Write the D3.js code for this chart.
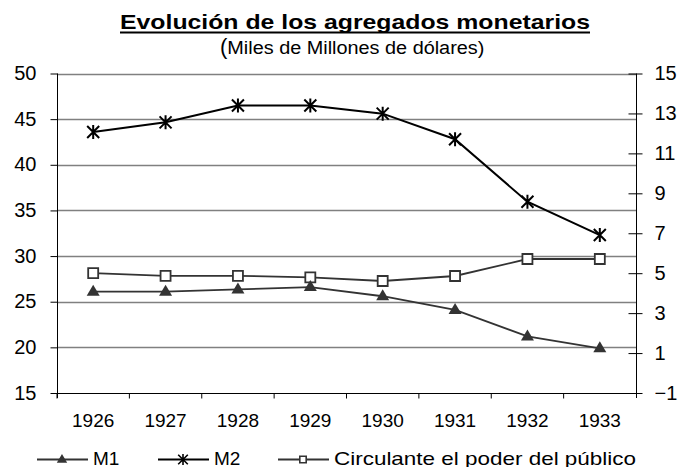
<!DOCTYPE html>
<html>
<head>
<meta charset="utf-8">
<script src="https://d3js.org/d3.v7.min.js"></script>
<style>
  body { margin: 0; background: #fff; }
  text { font-family: "Liberation Sans", Arial, sans-serif; fill: #000; }
</style>
</head>
<body>
<div id="chart"></div>
<script>
var years = ["1926", "1927", "1928", "1929", "1930", "1931", "1932", "1933"];
var m1 = [26.1, 26.1, 26.35, 26.6, 25.6, 24.1, 21.2, 19.9];
var m2 = [43.6, 44.65, 46.5, 46.5, 45.6, 42.8, 35.95, 32.3];
var circulante = [5.0, 4.87, 4.87, 4.79, 4.61, 4.86, 5.71, 5.71];
var leftTicks = [15, 20, 25, 30, 35, 40, 45, 50];
var rightTicks = [-1, 1, 3, 5, 7, 9, 11, 13, 15];

var width = 682, height = 467;
var margin = {left: 57, right: 46, top: 73.5, bottom: 74};

var svg = d3.select("#chart").append("svg")
  .attr("width", width)
  .attr("height", height);

var x = d3.scaleBand()
  .domain(years)
  .range([margin.left, width - margin.right]);

var yLeft = d3.scaleLinear()
  .domain([15, 50])
  .range([height - margin.bottom, margin.top]);

var yRight = d3.scaleLinear()
  .domain([-1, 15])
  .range([height - margin.bottom, margin.top]);

// gridlines
svg.append("g")
  .selectAll("line")
  .data(leftTicks.slice(1))
  .enter().append("line")
  .attr("x1", margin.left)
  .attr("x2", width - margin.right)
  .attr("y1", function(d) { return Math.round(yLeft(d)) + 0.5; })
  .attr("y2", function(d) { return Math.round(yLeft(d)) + 0.5; })
  .style("stroke", "#808080")
  .style("stroke-width", 1.5);

// left axis
var leftAxis = svg.append("g")
  .attr("transform", "translate(" + (margin.left + 0.5) + ",0)")
  .call(d3.axisLeft(yLeft).tickValues(leftTicks).tickSize(7).tickPadding(14));
leftAxis.select(".domain").attr("d", "M0," + yLeft(50) + "V" + (yLeft(15) + 5));
leftAxis.selectAll("text").style("font-size", "20px").attr("dy", "0.3em");

// right axis
var rightAxis = svg.append("g")
  .attr("transform", "translate(" + (width - margin.right + 0.5) + ",0)")
  .call(d3.axisRight(yRight).tickValues(rightTicks).tickSize(6).tickPadding(3));
rightAxis.select(".domain").attr("d", "M0," + yRight(15) + "V" + (yRight(-1) + 5));
rightAxis.selectAll(".tick line").attr("x1", -8);
rightAxis.selectAll("text").style("font-size", "20px").attr("x", 18).attr("dy", "0.3em");

// bottom axis
var bottomAxis = svg.append("g")
  .attr("transform", "translate(0," + (Math.round(height - margin.bottom) + 0.5) + ")")
  .call(d3.axisBottom(x).tickSize(0).tickPadding(20));
bottomAxis.select(".domain").attr("d", "M" + margin.left + ",0H" + (width - margin.right));
bottomAxis.selectAll("text").style("font-size", "19px");
bottomAxis.selectAll(".tick").append("line")
  .attr("x1", -x.bandwidth() / 2).attr("x2", -x.bandwidth() / 2)
  .attr("y1", 0).attr("y2", 5);

[leftAxis, rightAxis, bottomAxis].forEach(function(g) {
  g.selectAll("path, line").style("stroke", "#000");
  g.selectAll("text").style("fill", "#000").attr("font-family", null);
});

function cx(i) { return x(years[i]) + x.bandwidth() / 2; }

var star = "M-6,-6L6,6M-6,6L6,-6M0,-7L0,7";
var tri = "M0,-7L6.5,4L-6.5,4Z";
var sq = "M-5,-5H5V5H-5Z";

// M2
svg.append("path")
  .datum(m2)
  .attr("d", d3.line().x(function(d, i) { return cx(i); }).y(function(d) { return yLeft(d); }))
  .style("fill", "none").style("stroke", "#000").style("stroke-width", 2);
svg.selectAll(".m2pt").data(m2).enter().append("path")
  .attr("class", "m2pt")
  .attr("transform", function(d, i) { return "translate(" + cx(i) + "," + yLeft(d) + ")"; })
  .attr("d", star)
  .style("fill", "none").style("stroke", "#000").style("stroke-width", 2);

// Circulante
svg.append("path")
  .datum(circulante)
  .attr("d", d3.line().x(function(d, i) { return cx(i); }).y(function(d) { return yRight(d); }))
  .style("fill", "none").style("stroke", "#333").style("stroke-width", 1.8);
svg.selectAll(".cpt").data(circulante).enter().append("path")
  .attr("class", "cpt")
  .attr("transform", function(d, i) { return "translate(" + cx(i) + "," + yRight(d) + ")"; })
  .attr("d", sq)
  .style("fill", "#fff").style("stroke", "#333").style("stroke-width", 1.8);

// M1
svg.append("path")
  .datum(m1)
  .attr("d", d3.line().x(function(d, i) { return cx(i); }).y(function(d) { return yLeft(d); }))
  .style("fill", "none").style("stroke", "#333").style("stroke-width", 1.8);
svg.selectAll(".m1pt").data(m1).enter().append("path")
  .attr("class", "m1pt")
  .attr("transform", function(d, i) { return "translate(" + cx(i) + "," + yLeft(d) + ")"; })
  .attr("d", tri)
  .style("fill", "#333");

// title
svg.append("text")
  .attr("x", 120).attr("y", 29)
  .attr("textLength", 470).attr("lengthAdjust", "spacingAndGlyphs")
  .style("font-size", "21px").style("font-weight", "bold")
  .text("Evolución de los agregados monetarios");
svg.append("line")
  .attr("x1", 120).attr("x2", 590)
  .attr("y1", 32.5).attr("y2", 32.5)
  .style("stroke", "#000").style("stroke-width", 2);

var sub = svg.append("text")
  .attr("x", 220).attr("y", 53.5)
  .style("font-size", "18px");
sub.append("tspan").style("font-size", "22px").text("(");
sub.append("tspan").attr("textLength", 257).attr("lengthAdjust", "spacingAndGlyphs")
  .text("Miles de Millones de dólares)");

// legend
var legend = [
  {name: "M1", x0: 37, shape: tri, fill: "#333", stroke: "#333", len: null},
  {name: "M2", x0: 158, shape: star, fill: "none", stroke: "#000", len: null},
  {name: "Circulante el poder del público", x0: 278, shape: "M-4,-4H4V4H-4Z", fill: "#fff", stroke: "#333", len: 302}
];
var ly = 459.5;
var lg = svg.selectAll(".leg").data(legend).enter().append("g")
  .attr("class", "leg")
  .attr("transform", function(d) { return "translate(" + d.x0 + "," + ly + ")"; });
lg.append("line")
  .attr("x1", 0).attr("x2", 51).attr("y1", 0).attr("y2", 0)
  .style("stroke", function(d) { return d.stroke; }).style("stroke-width", 1.8);
lg.append("path")
  .attr("transform", "translate(25,0) scale(0.8)")
  .attr("d", function(d) { return d.shape; })
  .style("fill", function(d) { return d.fill; })
  .style("stroke", function(d) { return d.fill === "#333" ? "none" : d.stroke; })
  .style("stroke-width", 2);
lg.append("text")
  .attr("x", 56).attr("y", 5)
  .attr("textLength", function(d) { return d.len; })
  .attr("lengthAdjust", "spacingAndGlyphs")
  .style("font-size", "19px")
  .text(function(d) { return d.name; });
</script>
</body>
</html>
